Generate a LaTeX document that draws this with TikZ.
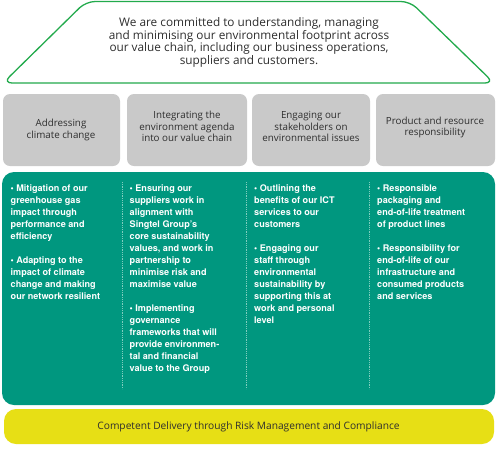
\documentclass[tikz,border=0pt]{standalone}
\usepackage{fontspec}
\setmainfont{TeX Gyre Heros}
\newfontfamily\softfont{Open Sans}
\definecolor{frameGreen}{HTML}{22AA4C}
\definecolor{panelTeal}{HTML}{00977F}
\definecolor{boxGrey}{HTML}{C9C9C9}
\definecolor{barYellow}{HTML}{E7DF15}
\definecolor{inkDark}{HTML}{2E2E2E}
\definecolor{dotTeal}{HTML}{7FCDBE}
\begin{document}
\begin{tikzpicture}[x=1pt,y=-1pt,
  themebox/.style={fill=boxGrey,rounded corners=7pt,draw=none},
  themetext/.style={font=\softfont\fontsize{9.8}{11.6}\selectfont,text=inkDark,align=center,inner sep=0pt},
  coltext/.style={font=\bfseries\fontsize{9.1}{12}\selectfont,text=white,align=left,anchor=north west,inner sep=0pt},
  divider/.style={draw=dotTeal,line width=0.9pt,dash pattern=on 0.9pt off 0.9pt}]
\useasboundingbox (0,0) rectangle (497,448);
% top trapezoid
\draw[frameGreen,line width=1.3pt,fill=white,rounded corners=9pt]
  (3,83) -- (86,1.5) -- (410,1.5) -- (494,83) -- cycle;
\node[font=\softfont\fontsize{11.8}{12.6}\selectfont,text=inkDark,align=center,inner sep=0pt] (mission) at (249,42.5)
 {We are committed to understanding, managing\\and minimising our environmental footprint across\\our value chain, including our business operations,\\suppliers and customers.};
% grey theme boxes
\fill[themebox] (3,94) rectangle (120,166);
\fill[themebox] (127,94) rectangle (247,166);
\fill[themebox] (252,94) rectangle (370,166);
\fill[themebox] (376,94) rectangle (495,166);
\node[themetext] (t1) at (61,130) {Addressing\\climate change};
\node[themetext] (t2) at (187,126.5) {Integrating the\\environment agenda\\into our value chain};
\node[themetext] (t3) at (311,126.5) {Engaging our\\stakeholders on\\environmental issues};
\node[themetext] (t4) at (435,127.5) {Product and resource\\responsibility};
% teal panel
\fill[panelTeal,rounded corners=12pt] (2,172) rectangle (495,405);
\coordinate (d1a) at (122,182); \coordinate (d1b) at (122,389);
\coordinate (d2a) at (246.5,182); \coordinate (d2b) at (246.5,389);
\coordinate (d3a) at (369,182); \coordinate (d3b) at (369,389);
\draw[divider] (d1a) -- (d1b);
\draw[divider] (d2a) -- (d2b);
\draw[divider] (d3a) -- (d3b);
\node[coltext] (c1) at (10.5,184.5)
 {{\small•} Mitigation of our\\greenhouse gas\\impact through\\performance and\\efficiency\\[12pt]
  {\small•} Adapting to the\\impact of climate\\change and making\\our network resilient};
\node[coltext] (c2) at (129.5,184.5)
 {{\small•} Ensuring our\\suppliers work in\\alignment with\\Singtel Group's\\core sustainability\\values, and work in\\partnership to\\minimise risk and\\maximise value\\[12pt]
  {\small•} Implementing\\governance\\frameworks that will\\provide environmen-\\tal and financial\\value to the Group};
\node[coltext] (c3) at (254,184.5)
 {{\small•} Outlining the\\benefits of our ICT\\services to our\\customers\\[12pt]
  {\small•} Engaging our\\staff through\\environmental\\sustainability by\\supporting this at\\work and personal\\level};
\node[coltext] (c4) at (377,184.5)
 {{\small•} Responsible\\packaging and\\end-of-life treatment\\of product lines\\[12pt]
  {\small•} Responsibility for\\end-of-life of our\\infrastructure and\\consumed products\\and services};
% yellow bar
\fill[barYellow,rounded corners=12pt] (4,409) rectangle (494,444);
\node[font=\softfont\fontsize{10.2}{12}\selectfont,text=inkDark,inner sep=0pt] (foot) at (248.5,426.5)
 {Competent Delivery through Risk Management and Compliance};
\end{tikzpicture}
\end{document}
